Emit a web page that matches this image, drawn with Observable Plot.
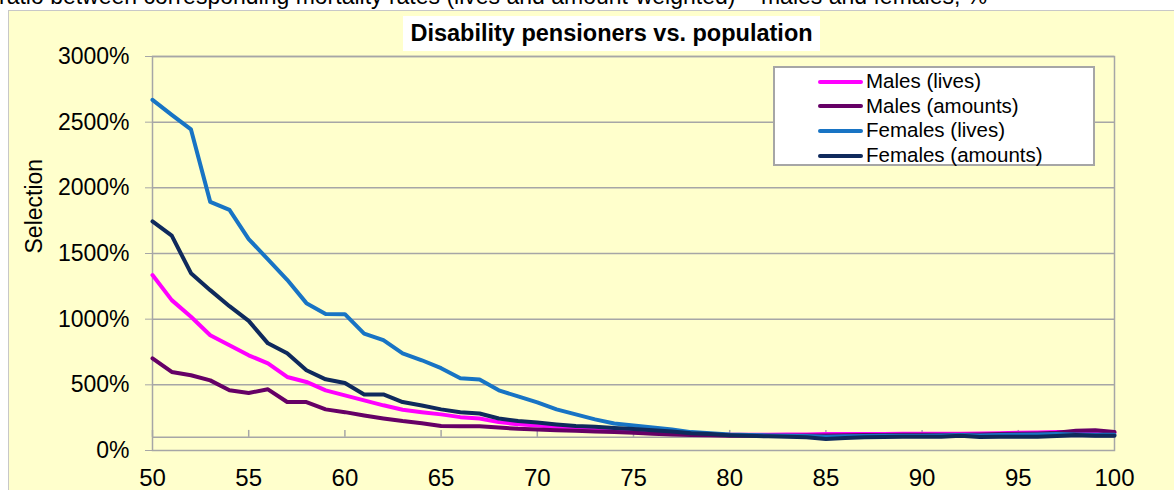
<!DOCTYPE html>
<html>
<head>
<meta charset="utf-8">
<script src="https://cdn.jsdelivr.net/npm/d3@7"></script>
<script src="https://cdn.jsdelivr.net/npm/@observablehq/plot@0.6"></script>
<style>
html, body { margin: 0; padding: 0; background: #fff; }
body { width: 1174px; height: 490px; overflow: hidden; position: relative; font-family: "Liberation Sans", Arial, sans-serif; color: #000; }
#topnote { position: absolute; left: -1px; top: -18px; font-size: 23px; line-height: 28px; white-space: nowrap; color: #000; }
#chart { position: absolute; left: 8px; top: 10px; }
#bTop { position: absolute; left: 8px; top: 10px; width: 1166px; height: 1px; background: #c8c8c8; }
#bLeft { position: absolute; left: 8px; top: 10px; width: 1px; height: 480px; background: #c8c8c8; }
#title { position: absolute; left: 403px; top: 16px; width: 417px; height: 35px; background: #fff; text-align: center; font-weight: bold; font-size: 23.5px; line-height: 35px; white-space: nowrap; }
#legend { position: absolute; left: 773px; top: 66px; width: 322px; height: 100px; box-sizing: border-box; border: 2px solid #a6a6a6; background: #fff; }
.row { position: absolute; left: 0; width: 318px; height: 24.5px; }
.sw { position: absolute; left: 43px; top: 10.5px; width: 45px; height: 4px; border-radius: 2px; }
.lb { position: absolute; left: 91px; top: 0; font-size: 20.5px; line-height: 24.5px; white-space: nowrap; }
</style>
</head>
<body>
<div id="topnote">ratio between corresponding mortality rates (lives and amount-weighted) – males and females, %</div>
<div id="chart"></div>
<div id="bTop"></div>
<div id="bLeft"></div>
<div id="title">Disability pensioners vs. population</div>
<div id="legend"></div>
<script>
// ---- data ----
const ages = [50,51,52,53,54,55,56,57,58,59,60,61,62,63,64,65,66,67,68,69,70,71,72,73,74,75,76,77,78,79,80,81,82,83,84,85,86,87,88,89,90,91,92,93,94,95,96,97,98,99,100];

const seriesNames = ["Males (lives)", "Males (amounts)", "Females (lives)", "Females (amounts)"];
const seriesColors = ["#FF00FF", "#660066", "#1874C4", "#0F2A5C"];

const malesLives = [1336,1145,1018,878,802,725,664,560,522,458,420,382,344,310,292,275,254,244,216,200,190,178,168,160,152,145,138,130,125,122,120,120,120,122,122,125,125,125,125,127,127,127,127,130,132,135,138,140,140,138,135];
const malesAmounts = [702,598,573,534,458,438,466,369,369,313,292,267,244,224,208,186,185,184,175,165,160,155,150,145,140,135,128,122,118,116,113,112,112,113,115,115,117,118,118,120,120,120,120,122,125,128,130,135,150,155,140];
const femalesLives = [2670,2555,2445,1893,1832,1610,1455,1300,1122,1040,1038,890,840,740,687,627,550,540,458,412,366,313,275,237,206,190,175,160,140,132,122,118,115,112,110,105,108,110,112,113,113,115,118,115,118,120,122,125,122,120,120];
const femalesAmounts = [1745,1636,1350,1221,1099,987,816,740,611,542,514,427,427,369,343,313,292,282,244,224,213,198,186,180,172,163,155,145,132,125,117,112,108,105,100,88,95,100,103,105,105,105,112,103,105,105,105,110,118,112,112];

const yTicks = [0,500,1000,1500,2000,2500,3000];
const yTickLabels = ["0%","500%","1000%","1500%","2000%","2500%","3000%"];
const xTicks = [50,55,60,65,70,75,80,85,90,95,100];
const xTickLabels = ["50","55","60","65","70","75","80","85","90","95","100"];
const axisCrossValue = 100;

// ---- table ----
const allSeries = [malesLives, malesAmounts, femalesLives, femalesAmounts];
const rows = [];
allSeries.forEach((vals, si) => {
  vals.forEach((v, i) => rows.push({age: ages[i], value: v, series: seriesNames[si]}));
});

const grey = "#a6a6a6";
const font = "'Liberation Sans', Arial, sans-serif";

const chart = Plot.plot({
  width: 1166,
  height: 480,
  marginLeft: 144,
  marginRight: 60,
  marginTop: 46,
  marginBottom: 40,
  style: {background: "#FFFFCC", fontFamily: font, color: "#000", overflow: "visible"},
  x: {domain: [50, 100]},
  y: {domain: [0, 3000]},
  color: {domain: seriesNames, range: seriesColors},
  marks: [
    Plot.ruleY(yTicks.slice(1), {stroke: grey, strokeWidth: 1.5}),
    Plot.ruleY([axisCrossValue], {stroke: grey, strokeWidth: 1.5}),
    Plot.ruleX(xTicks, {x: d => d, y1: axisCrossValue, y2: axisCrossValue + 53, stroke: grey, strokeWidth: 1.5}),
    Plot.frame({stroke: grey, strokeWidth: 1.5}),
    Plot.axisY({ticks: yTicks, tickFormat: d => yTickLabels[yTicks.indexOf(d)], tickSize: 7, tickPadding: 16, fontSize: 23, stroke: grey, label: null}),
    Plot.axisX({ticks: xTicks, tickFormat: d => xTickLabels[xTicks.indexOf(d)], tickSize: 0, tickPadding: 18, fontSize: 24, label: null}),
    Plot.text(["Selection"], {frameAnchor: "left", rotate: -90, dx: -118, fontSize: 23, fill: "#000"}),
    Plot.line(rows, {x: "age", y: "value", z: "series", stroke: "series", strokeWidth: 4, strokeLinejoin: "round", strokeLinecap: "round"})
  ]
});
document.getElementById("chart").appendChild(chart);

// ---- legend ----
const legend = document.getElementById("legend");
seriesNames.forEach((name, i) => {
  const row = document.createElement("div");
  row.className = "row";
  row.style.top = (1 + i * 24.7) + "px";
  const sw = document.createElement("div");
  sw.className = "sw";
  sw.style.background = seriesColors[i];
  const lb = document.createElement("div");
  lb.className = "lb";
  lb.textContent = name;
  row.appendChild(sw);
  row.appendChild(lb);
  legend.appendChild(row);
});
</script>
</body>
</html>
